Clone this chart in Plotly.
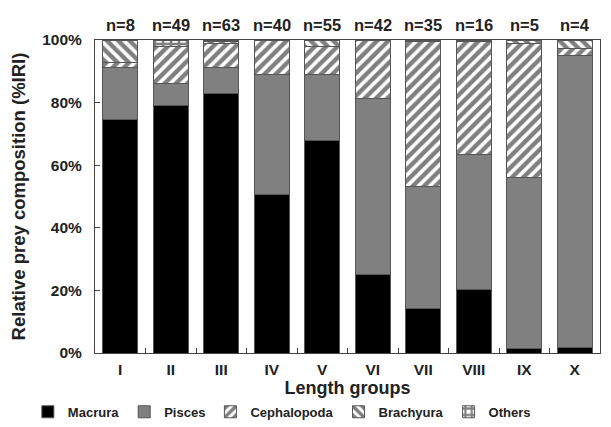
import plotly.graph_objects as go

groups = ["I", "II", "III", "IV", "V", "VI", "VII", "VIII", "IX", "X"]
n_labels = ["n=8", "n=49", "n=63", "n=40", "n=55", "n=42", "n=35", "n=16", "n=5", "n=4"]
y_ticks = [0, 20, 40, 60, 80, 100]
y_tick_text = ["0%", "20%", "40%", "60%", "80%", "100%"]

macrura = [74.5, 79.0, 83.0, 50.5, 68.0, 25.2, 14.2, 20.3, 1.4, 1.8]
pisces = [16.8, 7.0, 8.2, 38.5, 21.0, 56.0, 39.0, 43.0, 54.6, 93.4]
cephalopoda = [1.6, 11.8, 7.8, 11.0, 9.0, 18.8, 46.3, 36.2, 43.0, 2.0]
brachyura = [7.1, 0.0, 0.6, 0.0, 2.0, 0.0, 0.5, 0.3, 1.0, 2.8]
others = [0.0, 2.2, 0.4, 0.0, 0.0, 0.0, 0.0, 0.2, 0.0, 0.0]

FONT = "Liberation Sans, Arial, sans-serif"
TXT = "#222222"

fig = go.Figure()

def add(name, vals, color, shape=None):
    marker = dict(color=color, line=dict(color="#555555", width=1))
    if shape:
        marker["pattern"] = dict(shape=shape, fgcolor="black", bgcolor="white",
                                 size=8, solidity=0.55, fillmode="overlay")
    fig.add_trace(go.Bar(x=groups, y=vals, name=name, marker=marker, width=0.7))

add("Macrura", macrura, "black")
add("Pisces", pisces, "#808080")
add("Cephalopoda", cephalopoda, "white", "/")
add("Brachyura", brachyura, "white", "\\")
add("Others", others, "white", "+")

for g, t in zip(groups, n_labels):
    fig.add_annotation(x=g, y=1, xref="x", yref="paper", yanchor="bottom", yshift=4,
                       text="<b>" + t + "</b>", showarrow=False,
                       font=dict(family=FONT, size=16.5, color=TXT))

fig.update_layout(
    barmode="stack",
    width=611, height=427,
    margin=dict(l=87, r=19, t=32, b=82, autoexpand=False),
    paper_bgcolor="white", plot_bgcolor="white",
    font=dict(family=FONT, color=TXT),
    showlegend=True,
    legend=dict(orientation="h", x=0.37, xanchor="center", y=-0.14, yanchor="top",
                font=dict(family=FONT, size=13, color=TXT, weight="bold"),
                itemwidth=30, tracegroupgap=0, traceorder="normal"),
    bargap=0.3,
)
fig.update_xaxes(
    automargin=False,
    showline=True, linecolor="#444444", linewidth=1, mirror=True,
    ticks="inside", tickson="boundaries", ticklen=5, tickcolor="#444444",
    ticklabelstandoff=2,
    tickfont=dict(family=FONT, size=15.5, color=TXT, weight="bold"),
    title=dict(text="<b>Length groups</b>", font=dict(family=FONT, size=18, color=TXT), standoff=1),
    showgrid=False,
)
fig.update_yaxes(
    automargin=False,
    range=[0, 100], tickmode="array", tickvals=y_ticks, ticktext=y_tick_text,
    showline=True, linecolor="#444444", linewidth=1, mirror=True,
    ticks="inside", ticklen=5, tickcolor="#444444",
    ticklabelstandoff=9,
    tickfont=dict(family=FONT, size=15.5, color=TXT, weight="bold"),
    title=dict(text="<b>Relative prey composition (%IRI)</b>", font=dict(family=FONT, size=18.5, color=TXT), standoff=12),
    showgrid=False, zeroline=False,
)

fig.write_html("out.html")
